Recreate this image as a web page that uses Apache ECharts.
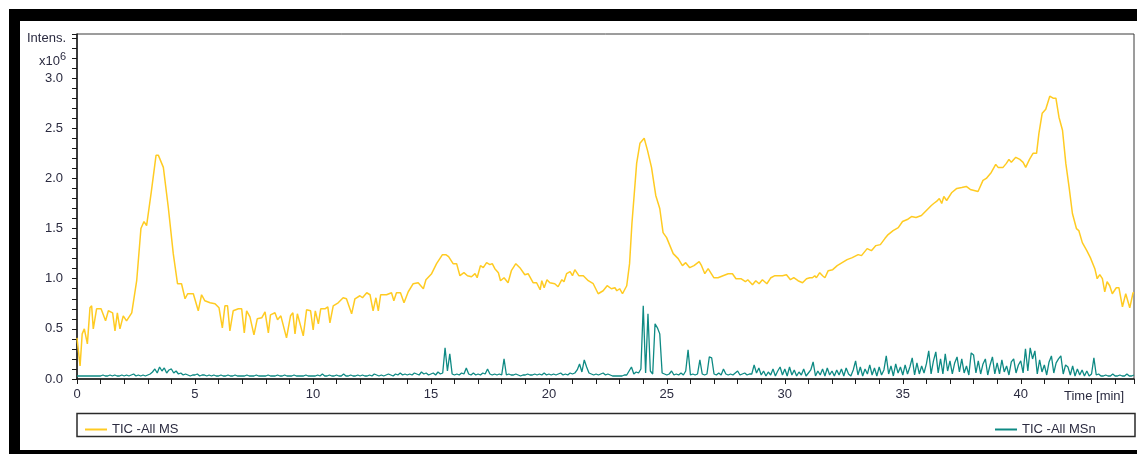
<!DOCTYPE html>
<html>
<head>
<meta charset="utf-8">
<script src="https://cdn.jsdelivr.net/npm/echarts@6/dist/echarts.min.js"></script>
<style>
  html, body { margin: 0; padding: 0; background: #fff; }
  #chart { width: 1137px; height: 454px; }
</style>
</head>
<body>
<div id="chart"></div>
<script>
// TIC - All MS: retention time (min) and intensity (x10^6)
const msTimes = [
  0, 0.13, 0.22, 0.31, 0.44, 0.55, 0.62, 0.69, 0.83, 1.02, 1.21, 1.33, 1.51, 1.61, 1.71, 1.82, 1.96, 2.1, 2.32, 2.53,
  2.71, 2.84, 2.95, 3.14, 3.35, 3.45, 3.66, 3.87, 4.08, 4.26, 4.43, 4.58, 4.69, 4.93, 5.14, 5.28, 5.42, 5.64, 5.85, 6.02,
  6.16, 6.27, 6.38, 6.48, 6.62, 6.84, 6.98, 7.09, 7.19, 7.33, 7.5, 7.64, 7.83, 7.97, 8.11, 8.2, 8.39, 8.5, 8.64, 8.88,
  9.05, 9.15, 9.24, 9.34, 9.59, 9.73, 9.9, 10.01, 10.1, 10.23, 10.33, 10.51, 10.63, 10.72, 10.86, 11.07, 11.28, 11.42, 11.64, 11.78,
  11.99, 12.1, 12.28, 12.42, 12.55, 12.67, 12.77, 12.87, 13.12, 13.33, 13.43, 13.54, 13.71, 13.86, 14.04, 14.25, 14.46, 14.68, 14.79, 15.03,
  15.24, 15.49, 15.63, 15.75, 15.94, 16.09, 16.23, 16.4, 16.55, 16.72, 16.87, 16.96, 17.1, 17.22, 17.36, 17.5, 17.6, 17.71, 17.86, 17.95,
  18.1, 18.27, 18.41, 18.6, 18.77, 18.98, 19.12, 19.33, 19.48, 19.63, 19.7, 19.8, 19.92, 20.04, 20.25, 20.39, 20.55, 20.64, 20.75, 20.9,
  21.0, 21.1, 21.27, 21.46, 21.67, 21.88, 22.09, 22.3, 22.47, 22.65, 22.8, 22.88, 23.0, 23.12, 23.3, 23.42, 23.52, 23.62, 23.72, 23.86,
  24.04, 24.18, 24.35, 24.53, 24.7, 24.84, 24.99, 25.27, 25.48, 25.66, 25.8, 25.97, 26.15, 26.37, 26.47, 26.61, 26.75, 26.99, 27.17, 27.38,
  27.6, 27.78, 27.93, 28.14, 28.33, 28.43, 28.63, 28.77, 28.91, 29.05, 29.24, 29.41, 29.58, 29.9, 30.07, 30.24, 30.38, 30.56, 30.75, 30.92,
  31.06, 31.17, 31.27, 31.34, 31.48, 31.6, 31.7, 31.84, 32.03, 32.22, 32.43, 32.64, 32.86, 33.11, 33.25, 33.49, 33.67, 33.86, 34.05, 34.24,
  34.38, 34.59, 34.81, 34.99, 35.19, 35.37, 35.56, 35.79, 36.0, 36.21, 36.31, 36.43, 36.55, 36.65, 36.74, 36.86, 37.08, 37.29, 37.5, 37.69,
  37.86, 38.19, 38.4, 38.54, 38.75, 38.94, 39.04, 39.25, 39.39, 39.5, 39.6, 39.79, 39.96, 40.1, 40.21, 40.37, 40.52, 40.67, 40.77, 40.91,
  41.06, 41.23, 41.37, 41.49, 41.62, 41.77, 41.91, 42.05, 42.19, 42.36, 42.46, 42.61, 42.8, 42.95, 43.14, 43.24, 43.35, 43.46, 43.56, 43.66,
  43.77, 43.88, 44.05, 44.16, 44.31, 44.45, 44.62, 44.76, 44.8
];
const msValues = [
  0.41, 0.13, 0.45, 0.50, 0.35, 0.71, 0.73, 0.50, 0.70, 0.70, 0.58, 0.68, 0.66, 0.48, 0.66, 0.50, 0.63, 0.58, 0.66, 0.98,
  1.50, 1.57, 1.53, 1.85, 2.23, 2.23, 2.11, 1.71, 1.25, 0.95, 0.95, 0.80, 0.85, 0.85, 0.68, 0.84, 0.78, 0.76, 0.75, 0.71,
  0.51, 0.73, 0.73, 0.48, 0.68, 0.70, 0.70, 0.46, 0.68, 0.62, 0.44, 0.60, 0.61, 0.67, 0.46, 0.64, 0.66, 0.59, 0.63, 0.41,
  0.63, 0.66, 0.45, 0.65, 0.43, 0.69, 0.68, 0.49, 0.68, 0.55, 0.70, 0.70, 0.72, 0.56, 0.73, 0.76, 0.81, 0.80, 0.65, 0.80,
  0.83, 0.81, 0.86, 0.84, 0.68, 0.81, 0.68, 0.84, 0.84, 0.86, 0.78, 0.86, 0.86, 0.76, 0.87, 0.95, 0.96, 0.90, 0.99, 1.05,
  1.15, 1.24, 1.24, 1.22, 1.15, 1.15, 1.03, 1.06, 1.03, 1.02, 1.05, 1.01, 1.13, 1.11, 1.16, 1.14, 1.15, 1.10, 1.06, 0.98,
  1.01, 0.96, 1.08, 1.15, 1.11, 1.04, 1.05, 0.96, 0.96, 0.89, 0.98, 0.91, 0.99, 0.96, 0.95, 0.92, 0.99, 0.97, 1.05, 1.07,
  1.03, 1.09, 1.03, 1.03, 0.98, 0.95, 0.85, 0.88, 0.93, 0.90, 0.91, 0.88, 0.90, 0.85, 0.93, 1.15, 1.55, 1.85, 2.15, 2.35,
  2.40, 2.28, 2.11, 1.83, 1.70, 1.46, 1.41, 1.25, 1.20, 1.13, 1.16, 1.11, 1.13, 1.17, 1.13, 1.05, 1.10, 1.01, 1.01, 1.03,
  1.05, 1.05, 1.00, 1.00, 0.97, 0.99, 0.94, 0.98, 0.95, 0.99, 0.95, 1.01, 1.03, 1.03, 1.04, 0.99, 1.01, 0.98, 0.96, 1.00,
  1.01, 1.01, 1.03, 1.01, 1.06, 1.03, 1.01, 1.08, 1.09, 1.13, 1.16, 1.19, 1.21, 1.24, 1.23, 1.30, 1.28, 1.33, 1.34, 1.40,
  1.44, 1.48, 1.51, 1.57, 1.59, 1.62, 1.61, 1.63, 1.68, 1.73, 1.75, 1.77, 1.80, 1.75, 1.82, 1.78, 1.86, 1.90, 1.91, 1.92,
  1.89, 1.87, 1.98, 2.00, 2.06, 2.14, 2.11, 2.11, 2.15, 2.19, 2.16, 2.21, 2.19, 2.16, 2.11, 2.19, 2.25, 2.25, 2.45, 2.65,
  2.69, 2.82, 2.80, 2.80, 2.61, 2.48, 2.15, 1.91, 1.65, 1.50, 1.48, 1.36, 1.28, 1.21, 1.10, 1.00, 1.04, 1.00, 0.87, 0.97,
  0.93, 0.85, 0.91, 0.91, 0.72, 0.85, 0.71, 0.86, 0.86
];

// TIC - All MSn: one scan every 0.1 min starting at 0 min, intensity (x10^6)
const MSN_START = 0;
const MSN_STEP = 0.1;
const msnValues = [
  0.03, 0.03, 0.03, 0.03, 0.03, 0.03, 0.03, 0.03, 0.03, 0.03,
  0.03, 0.04, 0.03, 0.03, 0.04, 0.03, 0.04, 0.03, 0.03, 0.04,
  0.03, 0.04, 0.03, 0.04, 0.05, 0.03, 0.04, 0.03, 0.04, 0.03,
  0.04, 0.05, 0.07, 0.10, 0.06, 0.12, 0.08, 0.11, 0.06, 0.09,
  0.10, 0.06, 0.08, 0.05, 0.06, 0.04, 0.05, 0.04, 0.03, 0.04,
  0.04, 0.05, 0.03, 0.04, 0.04, 0.03, 0.04, 0.03, 0.04, 0.03,
  0.03, 0.04, 0.03, 0.03, 0.04, 0.03, 0.03, 0.04, 0.03, 0.03,
  0.03, 0.03, 0.04, 0.03, 0.03, 0.03, 0.04, 0.03, 0.03, 0.03,
  0.03, 0.04, 0.03, 0.03, 0.03, 0.04, 0.03, 0.03, 0.04, 0.03,
  0.03, 0.03, 0.04, 0.03, 0.03, 0.03, 0.03, 0.04, 0.03, 0.03,
  0.03, 0.03, 0.04, 0.03, 0.05, 0.03, 0.03, 0.04, 0.03, 0.03,
  0.04, 0.03, 0.03, 0.05, 0.03, 0.03, 0.04, 0.03, 0.03, 0.04,
  0.03, 0.04, 0.03, 0.03, 0.04, 0.03, 0.05, 0.04, 0.03, 0.04,
  0.03, 0.04, 0.05, 0.04, 0.03, 0.05, 0.04, 0.06, 0.04, 0.05,
  0.04, 0.05, 0.04, 0.06, 0.05, 0.04, 0.07, 0.05, 0.06, 0.04,
  0.05, 0.06, 0.04, 0.07, 0.05, 0.06, 0.31, 0.08, 0.25, 0.05,
  0.04, 0.05, 0.04, 0.06, 0.05, 0.11, 0.05, 0.04, 0.06, 0.04,
  0.05, 0.04, 0.06, 0.05, 0.10, 0.05, 0.04, 0.05, 0.04, 0.05,
  0.04, 0.20, 0.04, 0.05, 0.04, 0.04, 0.05, 0.04, 0.03, 0.04,
  0.04, 0.05, 0.04, 0.04, 0.05, 0.04, 0.05, 0.04, 0.06, 0.04,
  0.05, 0.04, 0.05, 0.04, 0.05, 0.06, 0.04, 0.05, 0.04, 0.06,
  0.05, 0.06, 0.09, 0.15, 0.07, 0.19, 0.12, 0.06, 0.05, 0.04,
  0.05, 0.04, 0.05, 0.06, 0.04, 0.05, 0.04, 0.03, 0.03, 0.03,
  0.03, 0.03, 0.04, 0.04, 0.08, 0.12, 0.05, 0.07, 0.06, 0.10,
  0.73, 0.06, 0.65, 0.08, 0.05, 0.55, 0.51, 0.45, 0.06, 0.05,
  0.04, 0.05, 0.08, 0.04, 0.05, 0.04, 0.06, 0.04, 0.08, 0.29,
  0.04, 0.05, 0.04, 0.05, 0.19, 0.05, 0.04, 0.05, 0.22, 0.21,
  0.05, 0.04, 0.06, 0.04, 0.10, 0.05, 0.04, 0.05, 0.04, 0.06,
  0.08, 0.04, 0.05, 0.06, 0.04, 0.05, 0.05, 0.14, 0.06, 0.11,
  0.04, 0.08, 0.03, 0.07, 0.04, 0.10, 0.03, 0.08, 0.12, 0.04,
  0.10, 0.03, 0.12, 0.04, 0.09, 0.03, 0.07, 0.04, 0.10, 0.03,
  0.06, 0.09, 0.17, 0.03, 0.08, 0.04, 0.10, 0.03, 0.11, 0.04,
  0.08, 0.03, 0.09, 0.04, 0.10, 0.03, 0.11, 0.05, 0.03, 0.09,
  0.18, 0.04, 0.12, 0.03, 0.10, 0.05, 0.14, 0.04, 0.11, 0.03,
  0.12, 0.04, 0.09, 0.23, 0.05, 0.13, 0.03, 0.15, 0.06, 0.12,
  0.04, 0.14, 0.05, 0.12, 0.21, 0.04, 0.16, 0.05, 0.13, 0.06,
  0.15, 0.28, 0.05, 0.18, 0.27, 0.06, 0.20, 0.05, 0.25, 0.08,
  0.18, 0.05, 0.16, 0.22, 0.07, 0.20, 0.06, 0.13, 0.04, 0.26,
  0.24, 0.06, 0.18, 0.05, 0.15, 0.20, 0.04, 0.14, 0.22, 0.05,
  0.16, 0.05, 0.19, 0.07, 0.13, 0.04, 0.17, 0.20, 0.06, 0.14,
  0.18, 0.06, 0.30, 0.08, 0.31, 0.20, 0.28, 0.05, 0.19, 0.07,
  0.14, 0.04, 0.17, 0.23, 0.06, 0.16, 0.20, 0.23, 0.05, 0.14,
  0.12, 0.04, 0.13, 0.03, 0.10, 0.04, 0.09, 0.03, 0.08, 0.03,
  0.05, 0.21, 0.04, 0.05, 0.03, 0.03, 0.04, 0.03, 0.03, 0.05,
  0.03, 0.03, 0.04, 0.03, 0.03, 0.05, 0.03, 0.03, 0.04
];

const seriesNames = ['TIC -All MS', 'TIC -All MSn'];
const seriesColors = ['#FFCB22', '#0E8A84'];

const xRange = [0, 44.8];
const yRange = [0, 3.44];
const xMajorStep = 5;
const yMajorStep = 0.5;
const xAxisTitle = 'Time [min]';
const yAxisTitle = 'Intens.';
const yScaleBase = 'x10';
const yScaleExp = '6';

const FONT = "'Liberation Sans', Arial, sans-serif";
const TEXT = '#2b2b40';

const msData = msTimes.map((t, i) => [t, msValues[i]]);
const msnData = msnValues.map((v, i) => [+(MSN_START + i * MSN_STEP).toFixed(2), v]);

const isMultiple = (v, step) => Math.abs(v / step - Math.round(v / step)) < 1e-6;

const chart = echarts.init(document.getElementById('chart'), null, { renderer: 'canvas' });

chart.setOption({
  backgroundColor: '#ffffff',
  animation: false,
  grid: {
    left: 77, right: 2, top: 34, bottom: 75,
    show: true, borderColor: '#3a3a3a', borderWidth: 1, backgroundColor: 'transparent'
  },
  xAxis: {
    type: 'value',
    min: xRange[0], max: xRange[1], interval: 1,
    axisLine: { show: true, onZero: false, lineStyle: { color: '#1a1a1a', width: 1.5 } },
    axisTick: { show: true, length: 5, lineStyle: { color: '#1a1a1a', width: 1 } },
    splitLine: { show: false },
    axisLabel: {
      margin: 9, color: TEXT, fontFamily: FONT, fontSize: 13,
      formatter: v => (isMultiple(v, xMajorStep) ? String(Math.round(v)) : '')
    }
  },
  yAxis: {
    type: 'value',
    min: yRange[0], max: yRange[1], interval: 0.1,
    axisLine: { show: true, onZero: false, lineStyle: { color: '#1a1a1a', width: 1.5 } },
    axisTick: { show: true, length: 5, lineStyle: { color: '#1a1a1a', width: 1 } },
    splitLine: { show: false },
    axisLabel: {
      margin: 14, color: TEXT, fontFamily: FONT, fontSize: 13,
      formatter: v => (isMultiple(v, yMajorStep) && v < yRange[1] - 0.01 ? v.toFixed(1) : '')
    }
  },
  legend: [
    {
      data: [seriesNames[0]], left: 80, top: 418,
      icon: 'rect', itemWidth: 22, itemHeight: 2, itemGap: 6,
      textStyle: { color: TEXT, fontFamily: FONT, fontSize: 13 }
    },
    {
      data: [seriesNames[1]], left: 990, top: 418,
      icon: 'rect', itemWidth: 22, itemHeight: 2, itemGap: 6,
      textStyle: { color: TEXT, fontFamily: FONT, fontSize: 13 }
    }
  ],
  series: [
    {
      name: seriesNames[0], type: 'line', data: msData,
      showSymbol: false, smooth: false, z: 3,
      lineStyle: { color: seriesColors[0], width: 1.5 },
      itemStyle: { color: seriesColors[0] }
    },
    {
      name: seriesNames[1], type: 'line', data: msnData,
      showSymbol: false, smooth: false, z: 2,
      lineStyle: { color: seriesColors[1], width: 1.3 },
      itemStyle: { color: seriesColors[1] }
    }
  ],
  graphic: [
    // black outer frame
    { type: 'rect', shape: { x: 9, y: 9, width: 1128, height: 12 }, style: { fill: '#000' }, silent: true },
    { type: 'rect', shape: { x: 9, y: 9, width: 11, height: 445 }, style: { fill: '#000' }, silent: true },
    { type: 'rect', shape: { x: 9, y: 450, width: 1128, height: 4 }, style: { fill: '#000' }, silent: true },
    // legend box
    {
      type: 'rect', shape: { x: 77, y: 413.5, width: 1058, height: 23 },
      style: { fill: 'none', stroke: '#2a2a2a', lineWidth: 1.5 }, silent: true, z: -1
    },
    // axis titles
    {
      type: 'text', left: 27, top: 32,
      style: { text: yAxisTitle, fill: TEXT, font: '13px ' + FONT }
    },
    {
      type: 'text', left: 39, top: 51,
      style: {
        text: '{b|' + yScaleBase + '}{e|' + yScaleExp + '}',
        rich: {
          b: { fill: TEXT, fontFamily: FONT, fontSize: 13, verticalAlign: 'bottom', lineHeight: 17 },
          e: { fill: TEXT, fontFamily: FONT, fontSize: 11, verticalAlign: 'top', lineHeight: 17, padding: [0, 0, 6, 0] }
        }
      }
    },
    {
      type: 'text', left: 1064, top: 390,
      style: { text: xAxisTitle, fill: TEXT, font: '13px ' + FONT }
    }
  ]
});
</script>
</body>
</html>
